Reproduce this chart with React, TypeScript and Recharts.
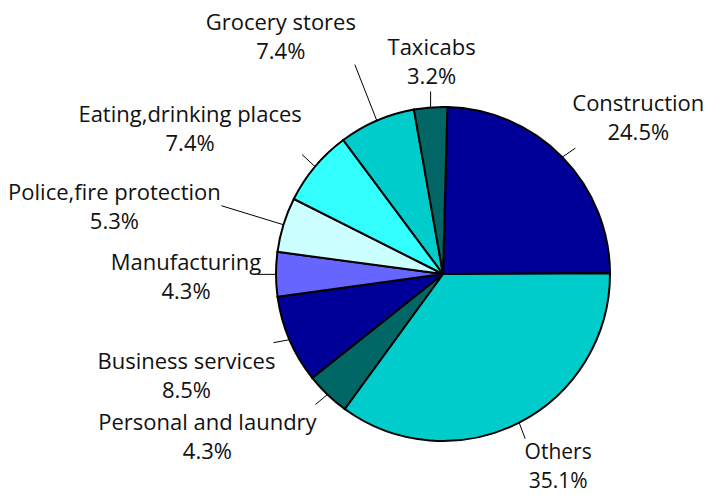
import { PieChart, Pie, Cell } from 'recharts';

const categories = [
  'Construction',
  'Others',
  'Personal and laundry',
  'Business services',
  'Manufacturing',
  'Police,fire protection',
  'Eating,drinking places',
  'Grocery stores',
  'Taxicabs',
];
const shares = [24.5, 35.1, 4.3, 8.5, 4.3, 5.3, 7.4, 7.4, 3.2];
const colors = ['#000099', '#00CCCC', '#006666', '#000099', '#6666FF', '#CCFFFF', '#33FFFF', '#00CCCC', '#006666'];

const data = categories.map((name, i) => ({ name, value: shares[i] }));

// leader end (lx, ly), first text line centre (tx, ty), line gap and font size, relative to the slice's arc midpoint
const labelLayout = [
  { lx: 13, ly: -9, tx: 76, ty: -55, gap: 29, size: 22 },
  { lx: 6, ly: 16, tx: 39, ty: 28, gap: 29, size: 21 },
  { lx: -12, ly: 10, tx: -120, ty: 26, gap: 29, size: 22 },
  { lx: -16, ly: 3, tx: -103, ty: 20, gap: 29, size: 22 },
  { lx: -18, ly: 0, tx: -90, ty: -13, gap: 29, size: 22 },
  { lx: -62, ly: -19, tx: -169, ty: -34, gap: 29, size: 22 },
  { lx: -13, ly: -12, tx: -125, ty: -54, gap: 29, size: 22 },
  { lx: -22, ly: -56, tx: -96, ty: -100, gap: 29, size: 22 },
  { lx: 0, ly: -16, tx: 1, ty: -61, gap: 29, size: 22 },
];

const RADIAN = Math.PI / 180;
const FONT = '"Open Sans", sans-serif';

const renderLabel = (props: any) => {
  const { cx, cy, midAngle, outerRadius, index, name, value } = props;
  const ax = cx + outerRadius * Math.cos(-midAngle * RADIAN);
  const ay = cy + outerRadius * Math.sin(-midAngle * RADIAN);
  const l = labelLayout[index];
  return (
    <g>
      <line x1={ax} y1={ay} x2={ax + l.lx} y2={ay + l.ly} stroke="#000" strokeWidth={1} />
      <text
        x={ax + l.tx}
        y={ay + l.ty}
        textAnchor="middle"
        dominantBaseline="central"
        fill="#111"
        fontSize={l.size}
        fontFamily={FONT}
      >
        {name}
      </text>
      <text
        x={ax + l.tx}
        y={ay + l.ty + l.gap}
        textAnchor="middle"
        dominantBaseline="central"
        fill="#111"
        fontSize={l.size}
        fontFamily={FONT}
      >
        {`${value.toFixed(1)}%`}
      </text>
    </g>
  );
};

export default function App() {
  return (
    <div style={{ position: 'absolute', left: 0, top: 0, width: 708, height: 495, background: '#fff' }}>
      <PieChart width={708} height={495} margin={{ top: 0, right: 0, bottom: 0, left: 0 }}>
        <Pie
          data={data}
          dataKey="value"
          nameKey="name"
          cx={443}
          cy={274}
          outerRadius={167}
          startAngle={88.5}
          endAngle={-271.5}
          stroke="#000"
          strokeWidth={2}
          label={renderLabel}
          labelLine={false}
          isAnimationActive={false}
        >
          {data.map((d, i) => (
            <Cell key={d.name} fill={colors[i]} />
          ))}
        </Pie>
      </PieChart>
    </div>
  );
}
